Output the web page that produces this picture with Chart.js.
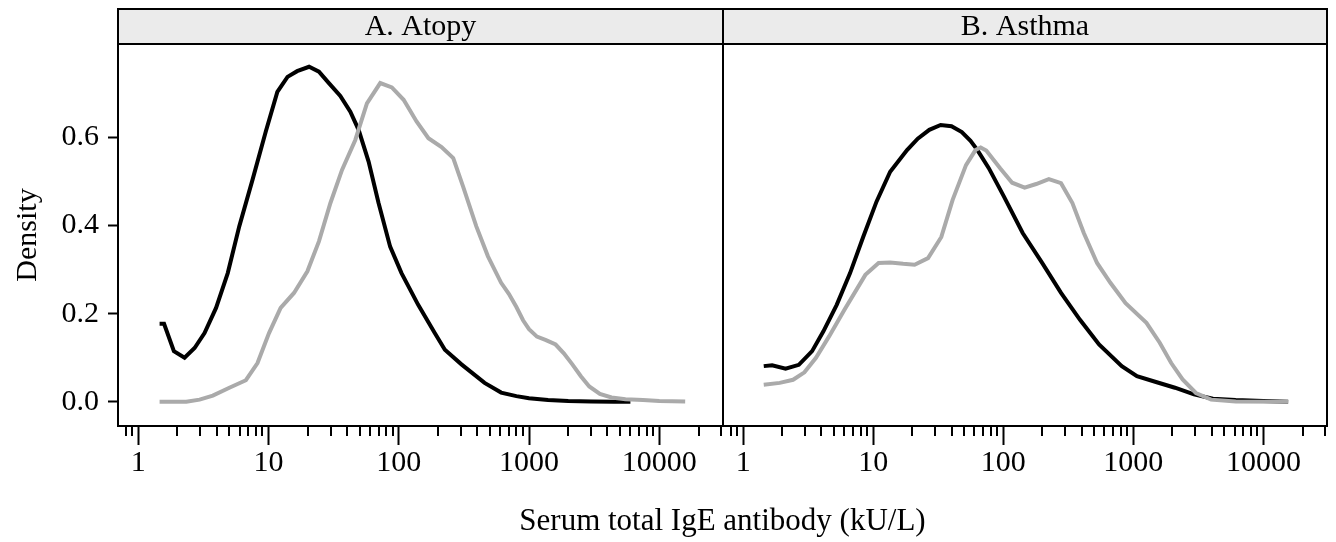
<!DOCTYPE html>
<html>
<head>
<meta charset="utf-8">
<title>Serum total IgE density</title>
<script src="https://cdn.jsdelivr.net/npm/chart.js@4.4.1/dist/chart.umd.min.js"></script>
<style>
  html, body { margin: 0; padding: 0; background: #fff; }
  #wrap { position: relative; width: 1336px; height: 542px; }
  #wrap canvas { position: absolute; left: 0; top: 0; }
</style>
</head>
<body>
<div id="wrap">
  <canvas id="panelA" width="1336" height="542"></canvas>
  <canvas id="panelB" width="1336" height="542"></canvas>
</div>
<script>
(() => {
	'use strict'

	// Panel titles and axis labels
	const panelTitles = ['A. Atopy', 'B. Asthma'];
	const xTitle = 'Serum total IgE antibody (kU/L)';
	const yTitle = 'Density';

	// Tick labels
	const xMajor = [1, 10, 100, 1000, 10000];
	const yTicks = [0, 0.2, 0.4, 0.6];

	// A. Atopy, black curve
	const aBlackX = [1.46, 1.58, 1.88, 2.27, 2.71, 3.23, 3.96, 4.87, 5.97, 7.55, 9.54, 11.7, 14.0, 16.6, 20.5, 24.4, 29.1, 35.6, 42.5, 49.2, 58.7, 70.0, 85.9, 105, 141, 189, 226, 303, 456, 611, 800, 1000, 1400, 2000, 3000, 4500, 6000];
	const aBlackY = [0.177, 0.177, 0.115, 0.100, 0.122, 0.156, 0.213, 0.292, 0.398, 0.504, 0.613, 0.703, 0.737, 0.750, 0.760, 0.749, 0.723, 0.694, 0.658, 0.617, 0.545, 0.451, 0.352, 0.292, 0.220, 0.156, 0.118, 0.085, 0.043, 0.021, 0.013, 0.008, 0.004, 0.002, 0.001, 0.0, 0.0];

	// A. Atopy, grey curve
	const aGrayX = [1.46, 2.34, 2.96, 3.74, 5.01, 6.71, 8.24, 10.1, 12.4, 15.7, 19.9, 24.4, 29.9, 36.7, 46.4, 57.0, 72.1, 88.5, 109, 137, 169, 213, 262, 312, 394, 484, 611, 700, 800, 900, 1000, 1150, 1350, 1600, 1850, 2150, 2500, 2900, 3500, 4300, 5500, 7500, 10000, 15800];
	const aGrayY = [0.0, 0.0, 0.005, 0.014, 0.032, 0.049, 0.088, 0.156, 0.213, 0.247, 0.296, 0.364, 0.451, 0.526, 0.594, 0.677, 0.723, 0.713, 0.685, 0.636, 0.598, 0.578, 0.553, 0.488, 0.398, 0.330, 0.270, 0.245, 0.215, 0.185, 0.165, 0.148, 0.140, 0.130, 0.110, 0.085, 0.058, 0.035, 0.018, 0.010, 0.006, 0.004, 0.002, 0.001];

	// B. Asthma, black curve
	const bBlackX = [1.44, 1.67, 2.12, 2.68, 3.39, 4.14, 5.24, 6.64, 8.40, 10.6, 13.5, 18.2, 22, 27, 33, 40, 48, 56, 63.3, 77.4, 101, 141, 199, 278, 389, 545, 815, 1066, 1493, 2089, 2925, 4093, 6124, 10000, 15500];
	const bBlackY = [0.081, 0.083, 0.075, 0.084, 0.115, 0.160, 0.220, 0.292, 0.375, 0.454, 0.522, 0.571, 0.597, 0.617, 0.628, 0.625, 0.612, 0.592, 0.571, 0.530, 0.466, 0.383, 0.315, 0.247, 0.186, 0.130, 0.081, 0.058, 0.045, 0.032, 0.017, 0.007, 0.004, 0.002, 0.0];

	// B. Asthma, grey curve
	const bGrayX = [1.44, 1.91, 2.42, 2.96, 3.63, 4.59, 6.01, 8.70, 11.0, 13.5, 17.0, 20.8, 26.4, 33.4, 40.8, 51.7, 61.1, 67, 74, 94.6, 117, 146, 179, 224, 278, 340, 416, 526, 666, 872, 1261, 1596, 1955, 2392, 3029, 3963, 6124, 15500];
	const bGrayY = [0.039, 0.043, 0.050, 0.067, 0.100, 0.149, 0.209, 0.288, 0.315, 0.316, 0.313, 0.311, 0.326, 0.374, 0.458, 0.537, 0.571, 0.577, 0.570, 0.530, 0.497, 0.486, 0.494, 0.505, 0.496, 0.451, 0.383, 0.315, 0.270, 0.224, 0.179, 0.134, 0.088, 0.051, 0.020, 0.005, 0.001, 0.0];

	// Axis ranges
	const xMin = 0.742;
	const xMax = 30830;
	const yMin = -0.0548;
	const yMax = 0.8116;

	// Layout (pixels)
	const headerTop = 9;
	const plotTop = 44;
	const plotBottom = 426;
	const plotLeft = 118;
	const plotSplit = 723;
	const plotRight = 1327;

	const fontFamily = "'Liberation Serif', 'Times New Roman', serif";
	const font = { family: fontFamily, size: 30 };
	Chart.defaults.font.family = fontFamily;
	Chart.defaults.color = '#000';

	function toPoints(xs, ys) {
		return xs.map((x, i) => ({ x: x, y: ys[i] }));
	}

	// Draws header strip, frame, minor ticks and shared x title
	const panelFrame = {
		id: 'panelFrame',
		beforeDraw(chart) {
			const { ctx, chartArea: a } = chart;
			ctx.save();
			ctx.fillStyle = '#ebebeb';
			ctx.fillRect(a.left, headerTop, a.right - a.left, a.top - headerTop);
			ctx.restore();
		},
		afterDraw(chart, args, opts) {
			const { ctx, chartArea: a } = chart;
			const xs = chart.scales.x;
			ctx.save();
			ctx.strokeStyle = '#000';
			ctx.lineWidth = 2;
			ctx.strokeRect(a.left, headerTop, a.right - a.left, a.top - headerTop);
			ctx.strokeRect(a.left, a.top, a.right - a.left, a.bottom - a.top);

			// minor ticks of the log axis
			ctx.beginPath();
			for (let d = 0.1; d < xMax; d *= 10) {
				for (let m = 2; m <= 9; m++) {
					const v = m * d;
					if (v < xMin || v > xMax) continue;
					const px = Math.round(xs.getPixelForValue(v));
					ctx.moveTo(px, a.bottom);
					ctx.lineTo(px, a.bottom + 10);
				}
			}
			ctx.stroke();

			ctx.fillStyle = '#000';
			ctx.font = '30px ' + fontFamily;
			ctx.textAlign = 'center';
			ctx.textBaseline = 'middle';
			ctx.fillText(opts.title, (a.left + a.right) / 2, (headerTop + a.top) / 2 + 1);

			if (opts.xTitle) {
				ctx.font = '31px ' + fontFamily;
				ctx.textBaseline = 'alphabetic';
				ctx.fillText(opts.xTitle, (plotLeft + plotRight) / 2, 530);
			}
			ctx.restore();
		}
	};

	function xScale() {
		return {
			type: 'logarithmic',
			min: xMin,
			max: xMax,
			afterBuildTicks: (s) => { s.ticks = xMajor.map((v) => ({ value: v })); },
			afterFit: (s) => { s.height = 542 - plotBottom; },
			border: { display: true, color: '#000', width: 2 },
			grid: { drawOnChartArea: false, tickLength: 19, tickWidth: 2, tickColor: '#000' },
			ticks: { font: font, color: '#000', padding: 0, maxRotation: 0, autoSkip: false, callback: (v) => String(v) }
		};
	}

	function lineSets(blackX, blackY, grayX, grayY) {
		return [{
			data: toPoints(grayX, grayY),
			borderColor: '#aaaaaa',
			borderWidth: 4,
			pointRadius: 0,
			tension: 0
		}, {
			data: toPoints(blackX, blackY),
			borderColor: '#000000',
			borderWidth: 4,
			pointRadius: 0,
			tension: 0
		}];
	}

	/******************** Panel A Start ********************/
	new Chart(document.getElementById('panelA'), {
		type: 'line',
		data: { datasets: lineSets(aBlackX, aBlackY, aGrayX, aGrayY) },
		options: {
			responsive: false,
			animation: false,
			layout: { padding: { left: 0, right: 1336 - plotSplit, top: plotTop, bottom: 0 } },
			plugins: {
				legend: { display: false },
				tooltip: { enabled: false },
				panelFrame: { title: panelTitles[0], xTitle: xTitle }
			},
			scales: {
				x: xScale(),
				y: {
					min: yMin,
					max: yMax,
					afterBuildTicks: (s) => { s.ticks = yTicks.map((v) => ({ value: v })); },
					afterFit: (s) => { s.width = plotLeft; },
					border: { display: true, color: '#000', width: 2 },
					grid: { drawOnChartArea: false, tickLength: 10, tickWidth: 2, tickColor: '#000' },
					ticks: { font: font, color: '#000', padding: 9, callback: (v) => Number(v).toFixed(1) },
					title: { display: true, text: yTitle, font: font, color: '#000', padding: { top: 10, bottom: 0 } }
				}
			}
		},
		plugins: [panelFrame]
	});
	/********************* Panel A End *********************/

	/******************** Panel B Start ********************/
	new Chart(document.getElementById('panelB'), {
		type: 'line',
		data: { datasets: lineSets(bBlackX, bBlackY, bGrayX, bGrayY) },
		options: {
			responsive: false,
			animation: false,
			layout: { padding: { left: plotSplit, right: 1336 - plotRight, top: plotTop, bottom: 0 } },
			plugins: {
				legend: { display: false },
				tooltip: { enabled: false },
				panelFrame: { title: panelTitles[1] }
			},
			scales: {
				x: xScale(),
				y: { display: false, min: yMin, max: yMax }
			}
		},
		plugins: [panelFrame]
	});
	/********************* Panel B End *********************/
})()
</script>
</body>
</html>
